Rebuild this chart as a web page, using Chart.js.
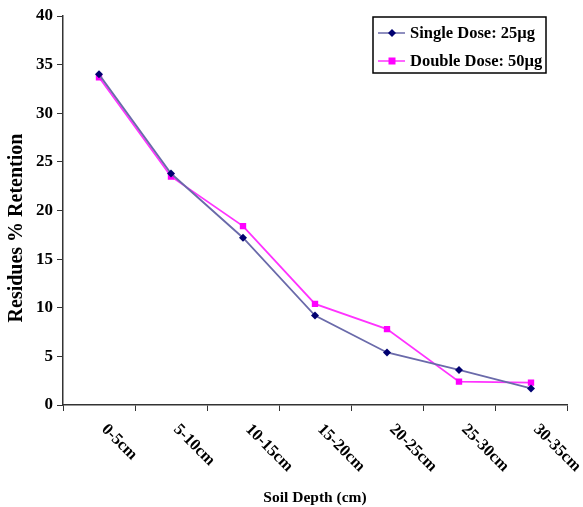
<!DOCTYPE html>
<html>
<head>
<meta charset="utf-8">
<script src="https://cdn.jsdelivr.net/npm/chart.js@4.4.1/dist/chart.umd.min.js"></script>
<style>
  html, body { margin: 0; padding: 0; background: #fff; }
  #wrap { position: relative; width: 583px; height: 507px; }
</style>
</head>
<body>
<div id="wrap"><canvas id="chart"></canvas></div>
<script>
// ==================== DATA ====================
const depths = ['0-5cm', '5-10cm', '10-15cm', '15-20cm', '20-25cm', '25-30cm', '30-35cm'];
const singleDose = [34.0, 23.8, 17.2, 9.2, 5.4, 3.6, 1.7];
const doubleDose = [33.7, 23.5, 18.4, 10.4, 7.8, 2.4, 2.3];
const seriesNames = ['Single Dose: 25\u00b5g', 'Double Dose: 50\u00b5g'];
const yTicks = [0, 5, 10, 15, 20, 25, 30, 35, 40];

const serif = '"Liberation Serif", "Times New Roman", serif';

// ==================== CUSTOM DRAWING ====================
// slanted x labels, axis titles, legend box inside the plot
const extras = {
  id: 'extras',
  afterDraw(chart) {
    const ctx = chart.ctx;
    const x = chart.scales.x;
    const area = chart.chartArea;
    ctx.save();
    ctx.fillStyle = '#000';

    // x labels, rotated 45deg clockwise
    ctx.font = 'bold 16.5px ' + serif;
    ctx.textAlign = 'left';
    ctx.textBaseline = 'middle';
    depths.forEach((lab, i) => {
      const px = x.getPixelForValue(i);
      ctx.save();
      ctx.translate(px + 5, area.bottom + 22);
      ctx.rotate(Math.PI / 4);
      ctx.fillText(lab, 0, 0);
      ctx.restore();
    });

    // x title
    ctx.textAlign = 'center';
    ctx.font = 'bold 15.5px ' + serif;
    ctx.fillText('Soil Depth (cm)', (area.left + area.right) / 2, 498);

    // y title
    ctx.save();
    ctx.translate(17, 228);
    ctx.rotate(-Math.PI / 2);
    ctx.font = 'bold 20px ' + serif;
    ctx.fillText('Residues % Retention', 0, 0);
    ctx.restore();

    // legend
    const lx = 373, ly = 17, lw = 173, lh = 56;
    ctx.lineWidth = 1.5;
    ctx.strokeStyle = '#000';
    ctx.strokeRect(lx, ly, lw, lh);
    chart.data.datasets.forEach((ds, i) => {
      const cy = ly + 16 + i * 28;
      ctx.strokeStyle = ds.borderColor;
      ctx.lineWidth = 1.5;
      ctx.beginPath();
      ctx.moveTo(lx + 5, cy);
      ctx.lineTo(lx + 32, cy);
      ctx.stroke();
      ctx.fillStyle = ds.pointBackgroundColor;
      if (ds.pointStyle === 'rectRot') {
        ctx.beginPath();
        ctx.moveTo(lx + 19, cy - 4);
        ctx.lineTo(lx + 23, cy);
        ctx.lineTo(lx + 19, cy + 4);
        ctx.lineTo(lx + 15, cy);
        ctx.closePath();
        ctx.fill();
      } else {
        ctx.fillRect(lx + 15.5, cy - 3.5, 7, 7);
      }
      ctx.fillStyle = '#000';
      ctx.textAlign = 'left';
      ctx.font = 'bold 16.5px ' + serif;
      ctx.fillText(ds.label, lx + 37, cy + 1);
    });
    ctx.restore();
  }
};

// ==================== CHART ====================
new Chart(document.getElementById('chart'), {
  type: 'line',
  data: {
    labels: depths,
    datasets: [
      {
        label: seriesNames[0],
        data: singleDose,
        borderColor: '#6a6aaa',
        borderWidth: 1.8,
        pointStyle: 'rectRot',
        pointRadius: 4,
        pointBackgroundColor: '#000070',
        pointBorderColor: '#000070',
        pointBorderWidth: 0,
        tension: 0
      },
      {
        label: seriesNames[1],
        data: doubleDose,
        borderColor: '#ff33ff',
        borderWidth: 1.8,
        pointStyle: 'rect',
        pointRadius: 4.5,
        pointBackgroundColor: '#ff00ff',
        pointBorderColor: '#ff00ff',
        pointBorderWidth: 0,
        tension: 0
      }
    ]
  },
  options: {
    responsive: true,
    maintainAspectRatio: false,
    animation: false,
    layout: { padding: { top: 16, right: 16, left: 0, bottom: 0 } },
    plugins: {
      legend: { display: false },
      tooltip: { enabled: false }
    },
    scales: {
      x: {
        offset: true,
        grid: {
          offset: true,
          drawOnChartArea: false,
          drawTicks: true,
          tickLength: 6,
          color: '#333'
        },
        border: { color: '#333', width: 1.5 },
        ticks: { display: false },
        afterFit: s => { s.height = 102; }
      },
      y: {
        min: 0,
        max: 40,
        afterBuildTicks: s => { s.ticks = yTicks.map(v => ({ value: v })); },
        grid: {
          drawOnChartArea: false,
          tickLength: 6,
          color: '#333'
        },
        border: { color: '#333', width: 1.5 },
        ticks: {
          color: '#000',
          padding: 4,
          font: { family: serif, size: 17, weight: 'bold' }
        },
        afterFit: s => { s.width = 63; }
      }
    }
  },
  plugins: [extras]
});
</script>
</body>
</html>
